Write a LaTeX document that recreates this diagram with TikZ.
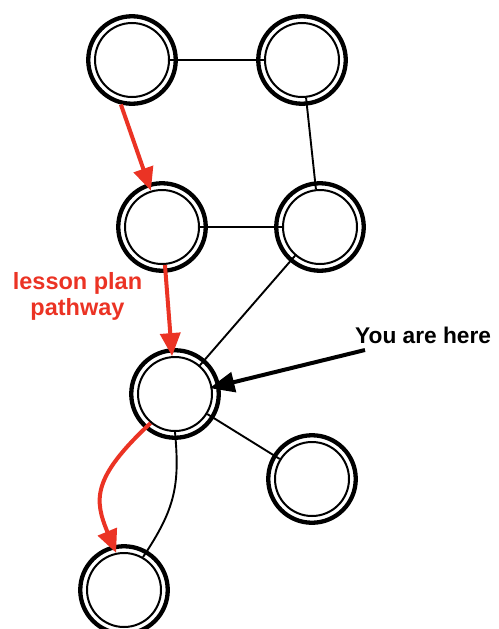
\documentclass[tikz,border=0pt]{standalone}
\usepackage{fontspec}
\setmainfont{Liberation Sans}
\usetikzlibrary{arrows.meta}
\definecolor{pathred}{RGB}{235,51,36}
\begin{document}
\begin{tikzpicture}[x=1pt,y=-1pt,
  hub/.style={circle, draw, line width=2pt, minimum size=74pt, inner sep=0pt},
  ring/.style={circle, draw, line width=4.3pt, minimum size=87.5pt, inner sep=0pt},
  link/.style={line width=1.9pt},
  route/.style={pathred, line width=4pt, -{Triangle[length=23pt,width=20pt]}},
  pointer/.style={black, line width=4pt, -{Triangle[length=25pt,width=20pt]}},
  tag/.style={font=\fontsize{23.5}{26}\selectfont\bfseries},
  herefont/.style={font=\fontsize{22.7}{26}\selectfont\bfseries}
]
\useasboundingbox (0,0) rectangle (498,629);

% inner circles of the lessons
\node[hub] (A) at (132,60)  {};
\node[hub] (B) at (302,60)  {};
\node[hub] (C) at (162,227) {};
\node[hub] (D) at (320,227) {};
\node[hub] (E) at (175,394) {};
\node[hub] (F) at (312,479) {};
\node[hub] (G) at (124,590) {};

% thick outer rings
\foreach \n in {A,B,C,D,E,F,G}
  \node[ring] (\n-ring) at (\n) {};

% plain connections
\draw[link] (A) -- (B);
\draw[link] (B) -- (D);
\draw[link] (C) -- (D);
\draw[link] (D) -- (E);
\draw[link] (E) -- (F);
\draw[link] (E.270) .. controls +(5,54) and +(32,-48) .. (G.60);

% lesson plan pathway
\draw[route] (A-ring.256) -- (C.107);
\draw[route] (C) -- (E);
\draw[route] (E.230) .. controls +(-59,55) and +(-22,-53) .. (G.102);

% labels
\node[tag, text=pathred, anchor=base, align=center] (pathway-label) at (77.5,315)
  {lesson plan\\pathway};
\node[herefont, anchor=base west, inner sep=0pt] (here-label) at (355,343) {You are here};
\coordinate (here-tail) at (365,350);
\draw[pointer, shorten >=-3pt] (here-tail) -- (E.10);
\end{tikzpicture}
\end{document}
